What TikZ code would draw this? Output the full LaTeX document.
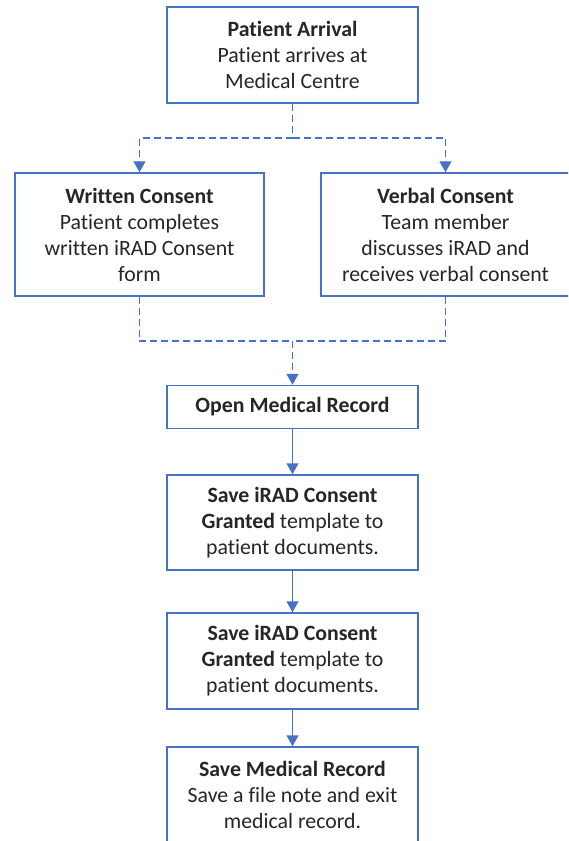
\documentclass[tikz,border=0pt]{standalone}
\usepackage{fontspec}
\setmainfont[Ligatures=NoCommon]{Carlito}
\usepackage{tikz}
\usetikzlibrary{arrows.meta,positioning}

\definecolor{flowblue}{HTML}{4472C4}
\definecolor{flowtext}{HTML}{262626}

\tikzset{
  stepbox/.style={draw=flowblue, line width=1.5pt, fill=white, inner sep=0pt,
    align=center, text=flowtext, font=\fontsize{21.8}{26}\selectfont},
  flowline/.style={draw=flowblue, line width=1.5pt},
  dashline/.style={flowline, dash pattern=on 7pt off 4pt},
  tip/.style={-{Triangle[length=11pt,width=12pt]}}
}

\begin{document}
\begin{tikzpicture}[x=1pt,y=-1pt]
  \clip (0,0) rectangle (568,841);
  \fill[white] (0,0) rectangle (568,841);

  % Boxes
  \node[stepbox, minimum width=251pt, minimum height=96pt] (arrival) at (292.5,55)
    {\textbf{Patient Arrival}\\Patient arrives at\\Medical Centre};
  \node[stepbox, minimum width=249pt, minimum height=123pt] (written) at (139.5,234.5)
    {\textbf{Written Consent}\\Patient completes\\written iRAD Consent\\form};
  \node[stepbox, minimum width=249pt, minimum height=123pt] (verbal) at (445.5,234.5)
    {\textbf{Verbal Consent}\\Team member\\discusses iRAD and\\receives verbal consent};
  \node[stepbox, minimum width=251pt, minimum height=43pt] (open) at (292.5,407)
    {\textbf{Open Medical Record}};
  \node[stepbox, minimum width=251pt, minimum height=95pt] (saveA) at (292.5,522.5)
    {\textbf{Save iRAD Consent}\\\textbf{Granted} template to\\patient documents.};
  \node[stepbox, minimum width=251pt, minimum height=96pt] (saveB) at (292.5,661)
    {\textbf{Save iRAD Consent}\\\textbf{Granted} template to\\patient documents.};
  \node[stepbox, minimum width=251pt, minimum height=96pt] (record) at (292.5,795)
    {\textbf{Save Medical Record}\\Save a file note and exit\\medical record.};

  % Dashed fork and join
  \coordinate (fork) at (292.5,138);
  \coordinate (join) at (292.5,341);
  \draw[dashline] (arrival.south) -- (fork);
  \draw[dashline, tip] (fork) -| (written.north);
  \draw[dashline, tip] (fork) -| (verbal.north);
  \draw[dashline] (written.south) |- (join);
  \draw[dashline] (verbal.south) |- (join);
  \draw[dashline, tip] (join) -- (open.north);

  % Solid steps
  \draw[flowline, tip] (open.south) -- (saveA.north);
  \draw[flowline, tip] (saveA.south) -- (saveB.north);
  \draw[flowline, tip] (saveB.south) -- (record.north);
\end{tikzpicture}
\end{document}
